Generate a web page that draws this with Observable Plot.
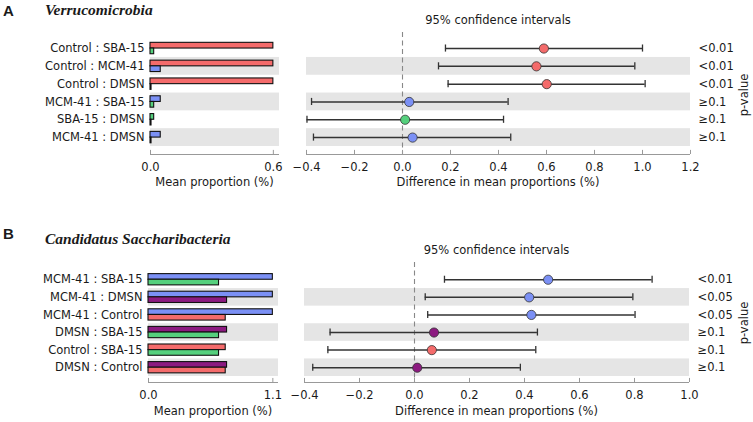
<!DOCTYPE html>
<html>
<head>
<meta charset="utf-8">
<script src="https://cdn.jsdelivr.net/npm/d3@7"></script>
<script src="https://cdn.jsdelivr.net/npm/@observablehq/plot@0.6"></script>
<style>
  html, body { margin: 0; padding: 0; background: #fff; }
  #wrap { position: relative; width: 753px; height: 422px; overflow: hidden; background: #fff; font-family: "DejaVu Sans", sans-serif; color: #1a1a1a; }
  .abs { position: absolute; white-space: nowrap; line-height: 1; }
  .panel { position: absolute; }
  .letter { font-family: "Liberation Sans", Arial, sans-serif; font-weight: bold; font-size: 15px; }
  .taxon { font-family: "Liberation Serif", "Times New Roman", serif; font-weight: bold; font-style: italic; font-size: 15.5px; }
  .lab { font-size: 11.5px; transform: translate(-50%, -50%); }
  .rot { font-size: 11.5px; transform: translate(-50%, -50%) rotate(-90deg); }
</style>
</head>
<body>
<div id="wrap"></div>
<script>
// ---------- Data ----------
const groupColors = { "Control": "#f46b6b", "SBA-15": "#55d07d", "MCM-41": "#7b90f5", "DMSN": "#8c1a80" };

// Panel A: Verrucomicrobia
const rowsA = ["Control : SBA-15", "Control : MCM-41", "Control : DMSN", "MCM-41 : SBA-15", "SBA-15 : DMSN", "MCM-41 : DMSN"];
const firstA = ["Control", "Control", "Control", "MCM-41", "SBA-15", "MCM-41"];
const secondA = ["SBA-15", "MCM-41", "DMSN", "SBA-15", "DMSN", "DMSN"];
const meanFirstA = [0.6, 0.6, 0.6, 0.05, 0.018, 0.05];
const meanSecondA = [0.018, 0.05, 0.005, 0.018, 0.005, 0.005];
const diffA = [0.589, 0.558, 0.601, 0.028, 0.011, 0.042];
const loA = [0.179, 0.15, 0.19, -0.379, -0.398, -0.371];
const hiA = [1.0, 0.968, 1.011, 0.44, 0.421, 0.451];
const pA = ["<0.01", "<0.01", "<0.01", "≥0.1", "≥0.1", "≥0.1"];
const meanTicksA = [0, 0.6];
const diffTicksA = [-0.4, -0.2, 0, 0.2, 0.4, 0.6, 0.8, 1.0, 1.2];

// Panel B: Candidatus Saccharibacteria
const rowsB = ["MCM-41 : SBA-15", "MCM-41 : DMSN", "MCM-41 : Control", "DMSN : SBA-15", "Control : SBA-15", "DMSN : Control"];
const firstB = ["MCM-41", "MCM-41", "MCM-41", "DMSN", "Control", "DMSN"];
const secondB = ["SBA-15", "DMSN", "Control", "SBA-15", "SBA-15", "Control"];
const meanFirstB = [1.1, 1.1, 1.1, 0.695, 0.683, 0.695];
const meanSecondB = [0.624, 0.695, 0.683, 0.624, 0.624, 0.683];
const diffB = [0.486, 0.417, 0.425, 0.071, 0.063, 0.01];
const loB = [0.109, 0.039, 0.048, -0.307, -0.315, -0.37];
const hiB = [0.864, 0.794, 0.802, 0.447, 0.441, 0.385];
const pB = ["<0.01", "<0.05", "<0.05", "≥0.1", "≥0.1", "≥0.1"];
const meanTicksB = [0, 1.1];
const diffTicksB = [-0.4, -0.2, 0, 0.2, 0.4, 0.6, 0.8, 1.0];

// ---------- Helpers ----------
const wrap = document.getElementById("wrap");
function addText(txt, cls, x, y) {
  const d = document.createElement("div");
  d.className = "abs " + cls;
  d.textContent = txt;
  d.style.left = x + "px";
  d.style.top = y + "px";
  wrap.appendChild(d);
  return d;
}
function place(svg, left, top) {
  const d = document.createElement("div");
  d.className = "panel";
  d.style.left = left + "px";
  d.style.top = top + "px";
  d.appendChild(svg);
  wrap.appendChild(d);
}
const FONT = { fontFamily: "DejaVu Sans, sans-serif", fontSize: "11.5px", background: "transparent", color: "#1a1a1a", overflow: "visible" };
const BAND = "#e5e5e5";
const AXIS = "#999999";

function barPlot(cfg) {
  const idx = d3.range(cfg.rows.length);
  const bars = [];
  idx.forEach(i => {
    bars.push({ i, v: cfg.m1[i], g: cfg.g1[i], y1: i - cfg.bh, y2: i });
    bars.push({ i, v: cfg.m2[i], g: cfg.g2[i], y1: i, y2: i + cfg.bh });
  });
  const bandRows = idx.filter(i => i % 2 === 1);
  const [x0, x1] = cfg.xDomain;
  const ybot = cfg.yDomain[1];
  return Plot.plot({
    width: cfg.width, height: cfg.height,
    marginLeft: cfg.ml, marginRight: cfg.mr, marginTop: cfg.mt, marginBottom: cfg.mb,
    style: FONT,
    x: { domain: cfg.xDomain },
    y: { domain: cfg.yDomain, reverse: true },
    marks: [
      Plot.rect(bandRows, { x1: () => x0, x2: () => x1, y1: i => i - 0.5, y2: i => i + 0.5, fill: BAND }),
      Plot.rect(bars, { x1: () => 0, x2: "v", y1: "y1", y2: "y2", fill: d => groupColors[d.g], stroke: "#111", strokeWidth: 1.1 }),
      Plot.ruleY([ybot], { stroke: AXIS, strokeWidth: 1 }),
      Plot.ruleX(cfg.ticks, { x: d => d, y1: () => ybot, y2: () => ybot - cfg.tickLen, stroke: AXIS }),
      Plot.axisX(cfg.ticks, { tickSize: 0, tickPadding: 8, tickFormat: d3.format(".1f"), label: null }),
      Plot.axisY(idx, { anchor: "left", tickSize: 0, tickPadding: 6, tickFormat: i => cfg.rows[i], label: null })
    ]
  });
}

function ciPlot(cfg) {
  const idx = d3.range(cfg.rows.length);
  const pts = idx.map(i => ({ i, d: cfg.diff[i], lo: cfg.lo[i], hi: cfg.hi[i], g: cfg.g1[i] }));
  const bandRows = idx.filter(i => i % 2 === 1);
  const [x0, x1] = cfg.xDomain;
  const ybot = cfg.yDomain[1];
  const cap = 0.2;
  return Plot.plot({
    width: cfg.width, height: cfg.height,
    marginLeft: cfg.ml, marginRight: cfg.mr, marginTop: cfg.mt, marginBottom: cfg.mb,
    style: FONT,
    x: { domain: cfg.xDomain },
    y: { domain: cfg.yDomain, reverse: true },
    marks: [
      Plot.rect(bandRows, { x1: () => x0, x2: () => x1, y1: i => i - 0.5, y2: i => i + 0.5, fill: BAND }),
      Plot.ruleX([0], { stroke: "#888", strokeWidth: 1.1, strokeDasharray: "5,3.5" }),
      Plot.ruleY(pts, { y: "i", x1: "lo", x2: "hi", stroke: "#333", strokeWidth: 1.5 }),
      Plot.ruleX(pts, { x: "lo", y1: d => d.i - cap, y2: d => d.i + cap, stroke: "#333", strokeWidth: 1.3 }),
      Plot.ruleX(pts, { x: "hi", y1: d => d.i - cap, y2: d => d.i + cap, stroke: "#333", strokeWidth: 1.3 }),
      Plot.dot(pts, { x: "d", y: "i", r: 4.6, fill: d => groupColors[d.g], stroke: "#333", strokeWidth: 0.8 }),
      Plot.ruleY([ybot], { stroke: AXIS, strokeWidth: 1 }),
      Plot.ruleX(cfg.ticks, { x: d => d, y1: () => ybot, y2: () => ybot - cfg.tickLen, stroke: AXIS }),
      Plot.axisX(cfg.ticks, { tickSize: 0, tickPadding: 8, tickFormat: d3.format(".1f"), label: null }),
      Plot.axisY(idx, { anchor: "right", tickSize: 0, tickPadding: 8, tickFormat: i => cfg.p[i], label: null })
    ]
  });
}

// ---------- Panel A ----------
const yDomA = [-0.9, 5.95];
place(barPlot({
  rows: rowsA, g1: firstA, g2: secondA, m1: meanFirstA, m2: meanSecondA,
  xDomain: [0, 0.63], yDomain: yDomA, ticks: meanTicksA, bh: 0.32, tickLen: 0.23,
  width: 290, height: 195, ml: 150, mr: 11, mt: 32, mb: 41
}), 0, 0);
place(ciPlot({
  rows: rowsA, g1: firstA, diff: diffA, lo: loA, hi: hiA, p: pA,
  xDomain: [-0.4, 1.2], yDomain: yDomA, ticks: diffTicksA, tickLen: 0.23,
  width: 463, height: 195, ml: 16, mr: 63, mt: 32, mb: 41
}), 290, 0);
addText("A", "letter", 3, 3);
addText("Verrucomicrobia", "taxon", 45, 2);
addText("95% confidence intervals", "lab", 498, 21);
addText("Mean proportion (%)", "lab", 214.5, 183);
addText("Difference in mean proportions (%)", "lab", 498, 183);
addText("p-value", "rot", 745, 95);

// ---------- Panel B ----------
const yDomB = [-0.98, 5.84];
place(barPlot({
  rows: rowsB, g1: firstB, g2: secondB, m1: meanFirstB, m2: meanSecondB,
  xDomain: [0, 1.15], yDomain: yDomB, ticks: meanTicksB, bh: 0.32, tickLen: 0.23,
  width: 290, height: 222, ml: 148, mr: 12, mt: 62, mb: 40
}), 0, 200);
place(ciPlot({
  rows: rowsB, g1: firstB, diff: diffB, lo: loB, hi: hiB, p: pB,
  xDomain: [-0.4, 1.0], yDomain: yDomB, ticks: diffTicksB, tickLen: 0.23,
  width: 463, height: 222, ml: 14, mr: 64, mt: 62, mb: 40
}), 290, 200);
addText("B", "letter", 3, 226);
addText("Candidatus Saccharibacteria", "taxon", 45, 231);
addText("95% confidence intervals", "lab", 496.5, 251);
addText("Mean proportion (%)", "lab", 213, 412);
addText("Difference in mean proportions (%)", "lab", 496.5, 412);
addText("p-value", "rot", 745, 323);
</script>
</body>
</html>
